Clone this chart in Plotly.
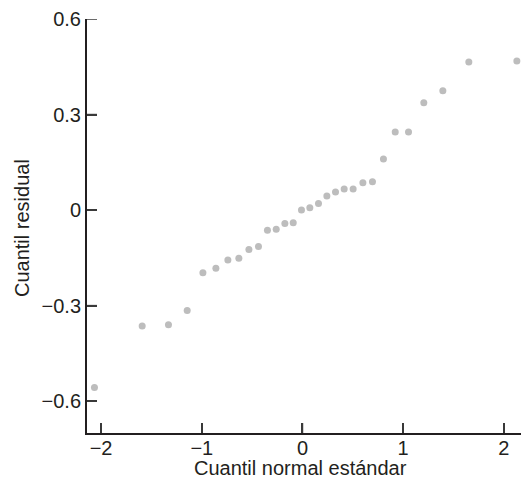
import plotly.graph_objects as go

# Normal quantiles (x) and residual quantiles (y)
normal_q = [-2.066, -1.592, -1.331, -1.145, -0.989, -0.860, -0.741, -0.632,
            -0.532, -0.437, -0.348, -0.261, -0.175, -0.092, -0.010, 0.073,
            0.159, 0.242, 0.328, 0.414, 0.503, 0.600, 0.695, 0.804,
            0.921, 1.053, 1.205, 1.394, 1.652, 2.129]
resid_q = [-0.557, -0.364, -0.360, -0.315, -0.197, -0.183, -0.157, -0.151,
           -0.124, -0.114, -0.063, -0.060, -0.042, -0.040, 0.000, 0.007,
           0.021, 0.044, 0.057, 0.066, 0.066, 0.086, 0.089, 0.160,
           0.245, 0.245, 0.337, 0.375, 0.465, 0.468]

x_ticks = [-2, -1, 0, 1, 2]
x_ticktext = ["\u22122", "\u22121", "0", "1", "2"]
y_ticks = [-0.6, -0.3, 0, 0.3, 0.6]
y_ticktext = ["\u22120.6", "\u22120.3", "0", "0.3", "0.6"]

FONT = "Liberation Sans, Arial, Helvetica, sans-serif"
INK = "#231f20"
TICK = "#3a3a3a"
FS = 20
TICKLEN = 10

fig = go.Figure(
    go.Scatter(
        x=normal_q, y=resid_q, mode="markers",
        marker=dict(size=7, color="#bdbdbd", line=dict(width=0)),
        hoverinfo="skip", showlegend=False, cliponaxis=False,
    )
)

# inward tick marks, anchored to the axis values
tick_shapes = []
for v in x_ticks:
    tick_shapes.append(dict(
        type="line", xref="x", yref="paper", ysizemode="pixel", yanchor=0,
        x0=v, x1=v, y0=0, y1=TICKLEN, layer="above",
        line=dict(color=TICK, width=1.5)))
for v in y_ticks:
    tick_shapes.append(dict(
        type="line", xref="paper", yref="y", xsizemode="pixel", xanchor=0,
        x0=0, x1=TICKLEN, y0=v, y1=v, layer="above",
        line=dict(color=TICK, width=1.5)))

# the page body adds an 8px offset; margins compensate for it
fig.update_layout(
    width=529, height=480,
    margin=dict(l=79, r=13, t=11, b=55, autoexpand=False),
    paper_bgcolor="white", plot_bgcolor="white",
    font=dict(family=FONT, size=FS, color=INK),
    xaxis=dict(
        range=[-2.14, 2.2], tickmode="array", tickvals=x_ticks,
        ticktext=x_ticktext,
        showgrid=False, zeroline=False, automargin=False,
        showline=True, linecolor=INK, linewidth=2,
        ticks="inside", ticklen=TICKLEN, tickwidth=1.5, tickcolor=TICK,
        ticklabelstandoff=-4,
    ),
    yaxis=dict(
        range=[-0.7, 0.6], tickmode="array", tickvals=y_ticks,
        ticktext=y_ticktext,
        showgrid=False, zeroline=False, automargin=False,
        showline=True, linecolor=INK, linewidth=2,
        ticks="inside", ticklen=TICKLEN, tickwidth=1.5, tickcolor=TICK,
        ticklabelstandoff=0,
    ),
    shapes=tick_shapes,
    annotations=[
        dict(text="Cuantil normal estándar", xref="paper", yref="paper",
             x=0.5, y=0, xanchor="center", yanchor="middle",
             xshift=-5, yshift=-35, showarrow=False,
             font=dict(size=FS, color=INK)),
        dict(text="Cuantil residual", xref="paper", yref="paper",
             x=0, y=0.5, xanchor="center", yanchor="middle",
             xshift=-65, yshift=-2, textangle=-90, showarrow=False,
             font=dict(size=FS, color=INK)),
    ],
)

fig.write_html("out.html")
